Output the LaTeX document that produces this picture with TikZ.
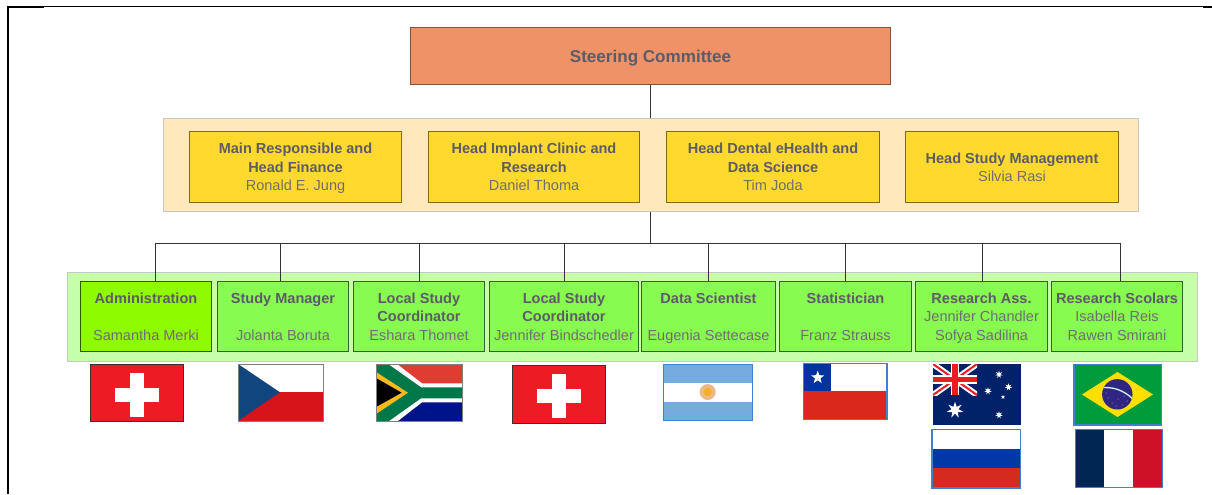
\documentclass[tikz,border=0pt]{standalone}
\usepackage{fontspec}
\setmainfont{Liberation Sans}
\definecolor{txt}{HTML}{5C5C66}
\definecolor{nametxt}{HTML}{6E6E70}
\definecolor{steer}{HTML}{F09268}
\definecolor{beige}{HTML}{FEE8BC}
\definecolor{yel}{HTML}{FFD92E}
\definecolor{band}{HTML}{C6FFAA}
\definecolor{grn}{HTML}{88FB50}
\definecolor{adm}{HTML}{8EFB00}
\definecolor{flagblue}{HTML}{3F80D0}
\definecolor{chred}{HTML}{ED1C24}
\definecolor{navy}{HTML}{012169}
\definecolor{czred}{HTML}{D7141A}
\definecolor{czblue}{HTML}{11457E}
\definecolor{zared}{HTML}{E03C31}
\definecolor{zablue}{HTML}{001489}
\definecolor{zagreen}{HTML}{007749}
\definecolor{zagold}{HTML}{FFB81C}
\definecolor{arblue}{HTML}{74ACDF}
\definecolor{clred}{HTML}{DA291C}
\definecolor{clblue}{HTML}{0033A0}
\definecolor{rublue}{HTML}{0039A6}
\definecolor{rured}{HTML}{D52B1E}
\definecolor{brgreen}{HTML}{009B3A}
\definecolor{bryel}{HTML}{FEDF00}
\definecolor{brblue}{HTML}{302681}
\definecolor{frblue}{HTML}{002654}
\definecolor{frred}{HTML}{CE1126}
\newcommand\ttl[1]{\vphantom{Ag}\textbf{\textcolor{txt}{#1}}}
\newcommand\nam[1]{\vphantom{Ag}\textcolor{nametxt}{#1}}
\newcommand\drop{\rule{0pt}{11pt}}
\newcommand\pxstar[5]{\pgfmathtruncatemacro\lastk{2*#5-1}\fill[#4,shift={(#1,#2)}] (270:#3) \foreach \k in {1,...,\lastk}{ -- ({270+\k*180/#5}:{#3*(1-0.58*mod(\k,2))})} -- cycle;}
\tikzset{
 x=0.75pt,y=-0.75pt,
 lbl/.style={font=\fontsize{10.9}{13.8}\selectfont,align=center,inner sep=0pt},
 steerbox/.style={draw=steer!55!black,fill=steer,line width=0.75pt,lbl},
 yelbox/.style={draw=yel!50!black,fill=yel,line width=0.75pt,lbl},
 grnbox/.style={draw=grn!40!black,fill=grn,line width=0.75pt,lbl},
 admbox/.style={draw=adm!35!black,fill=adm,line width=0.75pt,lbl},
 beigeband/.style={draw=black!22,fill=beige,line width=0.75pt},
 greenband/.style={draw=black!22,fill=band,line width=0.75pt},
 conn/.style={draw=black!80,line width=0.75pt},
 frameline/.style={draw=black},
 darkedge/.style={draw=black!80,line width=1.3pt},
 greyedge/.style={draw=black!50,line width=0.6pt},
 blueedge/.style={draw=flagblue,line width=0.9pt},
}
\begin{document}
\begin{tikzpicture}
\useasboundingbox (0,0) rectangle (1212,494);
% page frame
\draw[frameline,line width=0.75pt] (8,6.5) -- (1204,6.5);
\draw[frameline,line width=1.5pt] (8,6) -- (8,494);
\draw[frameline,line width=1.2pt] (8,7) -- (44,7);
\draw[frameline,line width=1.2pt] (1203,7) -- (1212,7);
% bands
\node[beigeband,minimum width=975*0.75pt,minimum height=93*0.75pt,inner sep=0pt] (leadband) at (650.5,164.5) {};
\node[greenband,minimum width=1130*0.75pt,minimum height=89*0.75pt,inner sep=0pt] (teamband) at (632,316.5) {};
% nodes
\node[steerbox,minimum width=480*0.75pt,minimum height=57*0.75pt] (sc) at (650,55.5) {};
\node[lbl,font=\fontsize{12.8}{15}\selectfont] (sclabel) at (650.5,58) {\ttl{Steering Committee}};
\foreach \nm/\xc/\bw/\bt in {
 a/295.5/212.5/{\drop\ttl{Main Responsible and}\\\ttl{Head Finance}\\\nam{Ronald E. Jung}},
 b/534/211.5/{\drop\ttl{Head Implant Clinic and}\\\ttl{Research}\\\nam{Daniel Thoma}},
 c/773/213.5/{\drop\ttl{Head Dental eHealth and}\\\ttl{Data Science}\\\nam{Tim Joda}},
 d/1012/213.5/{\drop\ttl{Head Study Management}\\\nam{Silvia Rasi}}}
 {\node[yelbox,minimum width=\bw*0.75pt,minimum height=71*0.75pt] (\nm) at (\xc,166.5) {\bt};}
\node[admbox,minimum width=131.5*0.75pt,minimum height=70*0.75pt] (t1) at (146,316) {\drop\ttl{Administration}\\[13.8pt]\nam{Samantha Merki}};
\foreach \nm/\xc/\bw/\bt in {
 t2/283/131.5/{\drop\ttl{Study Manager}\\[13.8pt]\nam{Jolanta Boruta}},
 t3/419/131.5/{\drop\ttl{Local Study}\\\ttl{Coordinator}\\\nam{Eshara Thomet}},
 t4/564/149.5/{\drop\ttl{Local Study}\\\ttl{Coordinator}\\\nam{Jennifer Bindschedler}},
 t5/708.5/133.5/{\drop\ttl{Data Scientist}\\[13.8pt]\nam{Eugenia Settecase}},
 t6/845.5/132.5/{\drop\ttl{Statistician}\\[13.8pt]\nam{Franz Strauss}},
 t7/981.5/132.5/{\drop\ttl{Research Ass.}\\\nam{Jennifer Chandler}\\\nam{Sofya Sadilina}},
 t8/1117/131.5/{\drop\ttl{Research Scolars}\\\nam{Isabella Reis}\\\nam{Rawen Smirani}}}
 {\node[grnbox,minimum width=\bw*0.75pt,minimum height=70*0.75pt] (\nm) at (\xc,316) {\bt};}
% connectors
\coordinate (hub) at (650,243);
\coordinate (hl) at (155,243);
\coordinate (hr) at (1120,243);
\draw[conn] (sc.south) -- (sc.south |- leadband.north);
\draw[conn] (sc.south |- leadband.south) -- (hub);
\draw[conn] (hl) -- (hr);
\foreach \xx/\tgt in {155/t1,280/t2,419/t3,564/t4,708/t5,845/t6,982/t7,1120/t8}
 \draw[conn] (\xx,243) -- (\xx,243 |- \tgt.north);
% --- flags ---
% Switzerland 1
\fill[chred] (90.5,364.5) rectangle (183.5,421.5);
\fill[white] (115,388.3) rectangle (158.7,401.7);
\fill[white] (130,372.7) rectangle (144,416.7);
\draw[darkedge] (90.5,364.5) rectangle (183.5,421.5);
% Czech
\fill[white] (238,364) rectangle (323,392.3);
\fill[czred] (238,392.3) rectangle (323,421);
\fill[czblue] (238,364) -- (280,392.3) -- (238,421) -- cycle;
\draw[greyedge] (238,364) rectangle (323,421);
% South Africa
\begin{scope}
\clip (376,364) rectangle (462,421.7);
\fill[zared] (376,364) rectangle (462,392.7);
\fill[zablue] (376,392.7) rectangle (462,421.7);
\fill[white] (376,364) -- (397,364) -- (422,383.3) -- (462,383.3) -- (462,402.3) -- (422,402.3) -- (397,421.7) -- (376,421.7) -- cycle;
\fill[zagreen] (376,364) -- (388,364) -- (421,387.3) -- (462,387.3) -- (462,398.3) -- (421,398.3) -- (388,421.7) -- (376,421.7) -- cycle;
\fill[zagold] (376,372) -- (408,392.7) -- (376,414) -- cycle;
\fill[black] (376,378) -- (401.7,392.7) -- (376,407) -- cycle;
\end{scope}
\draw[greyedge] (376,364) rectangle (462,421.7);
% Switzerland 2
\fill[chred] (512.5,365.5) rectangle (605.5,423.5);
\fill[white] (536.7,389) rectangle (580.7,403.3);
\fill[white] (551.7,374.3) rectangle (566,418.3);
\draw[darkedge] (512.5,365.5) rectangle (605.5,423.5);
% Argentina
\fill[arblue] (663.5,364.5) rectangle (752.5,420.2);
\fill[white] (663.5,382.7) rectangle (752.5,401.7);
\fill[orange!40!brown!55!white] (707.7,392) circle (8);
\fill[zagold!85!brown] (707.7,392) circle (4);
\draw[blueedge] (663.5,364.5) rectangle (752.5,420.2);
% Chile
\fill[white] (803.5,363.5) rectangle (887,419.7);
\fill[clred] (803.5,391.3) rectangle (887,419.7);
\fill[clblue] (803.5,363.5) rectangle (831.3,391.3);
\pxstar{817.7}{377.5}{6.8}{white}{5}
\draw[blueedge] (803.5,363.5) rectangle (887,419.7);
% Australia
\fill[navy] (933,364) rectangle (1021,425);
\begin{scope}
\clip (933,364) rectangle (977,395);
\draw[white,line width=4.5pt] (933,364) -- (977,395) (933,395) -- (977,364);
\draw[chred,line width=1.5pt] (933,364) -- (977,395) (933,395) -- (977,364);
\draw[white,line width=6.5pt] (955,364) -- (955,395) (933,379.5) -- (977,379.5);
\draw[chred,line width=3.8pt] (955,364) -- (955,395) (933,379.5) -- (977,379.5);
\end{scope}
\pxstar{955}{410}{8.5}{white}{7}
\pxstar{999}{374.5}{3.8}{white}{7}
\pxstar{1008.5}{387}{3.8}{white}{7}
\pxstar{988}{391}{3.8}{white}{7}
\pxstar{1003}{397}{2.2}{white}{5}
\pxstar{999}{415}{3.8}{white}{7}
% Russia
\fill[white] (932,429.3) rectangle (1020.5,449);
\fill[rublue] (932,449) rectangle (1020.5,468.3);
\fill[rured] (932,468.3) rectangle (1020.5,488);
\draw[blueedge] (932,429.3) rectangle (1020.5,488);
% Brazil
\fill[brgreen] (1074,364.3) rectangle (1161.3,425);
\fill[bryel] (1082,394.5) -- (1117.5,372) -- (1153,394.5) -- (1117.5,417) -- cycle;
\fill[brblue] (1117.3,394.3) circle (15.2);
\begin{scope}
\clip (1117.3,394.3) circle (15.2);
\draw[white!80!cyan,line width=1pt] (1100,388) .. controls (1112,386) and (1124,390) .. (1134,400);
\foreach \sx/\sy in {1108/398,1112/403,1118/399,1122/405,1127/401,1116/406,1106/393,1124/396}
 \fill[white!75!brblue] (\sx,\sy) circle (0.5);
\end{scope}
\draw[blueedge] (1074,364.3) rectangle (1161.3,425);
% France
\fill[frblue] (1075.5,429.5) rectangle (1104.3,487.7);
\fill[white] (1104.3,429.5) rectangle (1133.3,487.7);
\fill[frred] (1133.3,429.5) rectangle (1162.3,487.7);
\draw[blueedge] (1075.5,429.5) rectangle (1162.3,487.7);
\end{tikzpicture}
\end{document}
